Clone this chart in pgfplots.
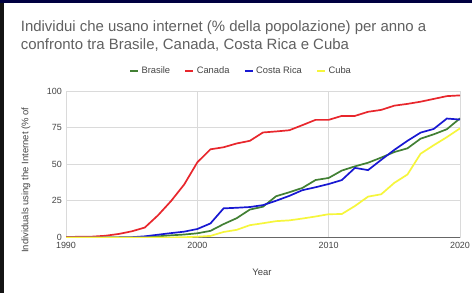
\documentclass[border=0pt]{standalone}
\usepackage{pgfplots}
\pgfplotsset{compat=1.18}
\usepackage{pgfplotstable}
\usepackage{fontspec}
\setmainfont{Liberation Sans}
\definecolor{cBr}{RGB}{66,128,52}
\definecolor{cCa}{RGB}{232,38,44}
\definecolor{cCr}{RGB}{24,24,210}
\definecolor{cCu}{RGB}{246,246,60}
\definecolor{titlegray}{RGB}{96,96,96}
\definecolor{tickgray}{RGB}{68,68,68}
\definecolor{gridgray}{RGB}{218,218,218}

\pgfplotstableread{
year brasile canada costarica cuba
1990 0     0.36 0    0
1991 0     0.48 0    0
1992 0     0.6  0    0
1993 0.03  1.2  0.05 0
1994 0.04  2.4  0.1  0
1995 0.1   4.2  0.2  0
1996 0.45  6.8  0.8  0.02
1997 0.79  15.1 1.9  0.03
1998 1.48  24.9 3.0  0.05
1999 2.04  36.2 4.0  0.2
2000 2.87  51.3 5.8  0.54
2001 4.53  60.2 9.6  1.08
2002 9.15  61.6 19.9 3.77
2003 13.2  64.2 20.3 5.24
2004 19.07 66.0 20.8 8.41
2005 21.02 71.7 22.1 9.74
2006 28.18 72.4 25.1 11.16
2007 30.88 73.2 28.4 11.69
2008 33.83 76.7 32.3 12.94
2009 39.22 80.3 34.3 14.33
2010 40.65 80.3 36.5 15.9
2011 45.69 83.0 39.2 16.02
2012 48.56 83.0 47.5 21.5
2013 51.04 85.8 46.0 27.9
2014 54.55 87.1 53.0 29.5
2015 58.33 90.0 59.8 37.3
2016 60.87 91.2 66.0 43.0
2017 67.47 92.7 71.6 57.2
2018 70.43 94.6 74.1 63.0
2019 73.91 96.5 81.2 68.5
2020 81.34 97.0 80.5 74.5
}\data

\begin{document}
\begin{tikzpicture}
\useasboundingbox (0,0) rectangle (472bp,293bp);
\fill[white] (0,0) rectangle (472bp,293bp);
\fill[black!92] (0,0) rectangle (4bp,293bp);
\fill[blue!25!black] (0,290bp) rectangle (472bp,293bp);

\node[anchor=base west, inner sep=0pt, text=titlegray, font=\fontsize{15}{19}\selectfont] at (20.7bp,261.5bp) {Individui che usano internet (\% della popolazione) per anno a};
\node[anchor=base west, inner sep=0pt, text=titlegray, font=\fontsize{15}{19}\selectfont] at (20.7bp,243bp) {confronto tra Brasile, Canada, Costa Rica e Cuba};

\begin{axis}[
  at={(66bp,55.5bp)}, anchor=south west,
  scale only axis, width=394bp, height=146.5bp,
  xmin=1990, xmax=2020, ymin=0, ymax=100,
  xtick={1990,2000,2010,2020}, ytick={0,25,50,75,100},
  grid=major, grid style={gridgray, line width=0.8bp},
  axis x line*=bottom, axis y line*=left,
  x axis line style={-, draw=black!60, line width=0.9bp},
  y axis line style={draw=none},
  major tick length=0pt,
  /pgf/number format/assume math mode=true,
  /pgf/number format/1000 sep={},
  ticklabel style={font=\fontsize{9}{10}\selectfont, text=tickgray, inner sep=0pt},
  yticklabel style={xshift=-4bp},
  xticklabel style={yshift=-4.5bp},
  legend columns=4,
  legend style={draw=none, fill=none, at={(0.444,1.137)}, anchor=center,
    font=\fontsize{9.4}{10}\selectfont, text=tickgray,
    nodes={inner sep=2bp},
    /tikz/every even column/.append style={column sep=12bp}},
  legend image code/.code={\draw[#1, line width=2.6bp] (0bp,0bp) -- (8bp,0bp);},
  every axis plot/.append style={line width=1.7bp},
]
\addplot[cBr] table[x=year, y=brasile] {\data};
\addlegendentry{Brasile}
\addplot[cCa] table[x=year, y=canada] {\data};
\addlegendentry{Canada}
\addplot[cCr] table[x=year, y=costarica] {\data};
\addlegendentry{Costa Rica}
\addplot[cCu] table[x=year, y=cuba] {\data};
\addlegendentry{Cuba}
\end{axis}

\node[text=tickgray, font=\fontsize{9.5}{11}\selectfont, inner sep=0pt] at (262bp,21bp) {Year};
\node[text=tickgray, font=\fontsize{9.5}{11}\selectfont, inner sep=0pt, rotate=90, anchor=west] at (26bp,40bp) {Individuals using the Internet (\% of};
\end{tikzpicture}
\end{document}
